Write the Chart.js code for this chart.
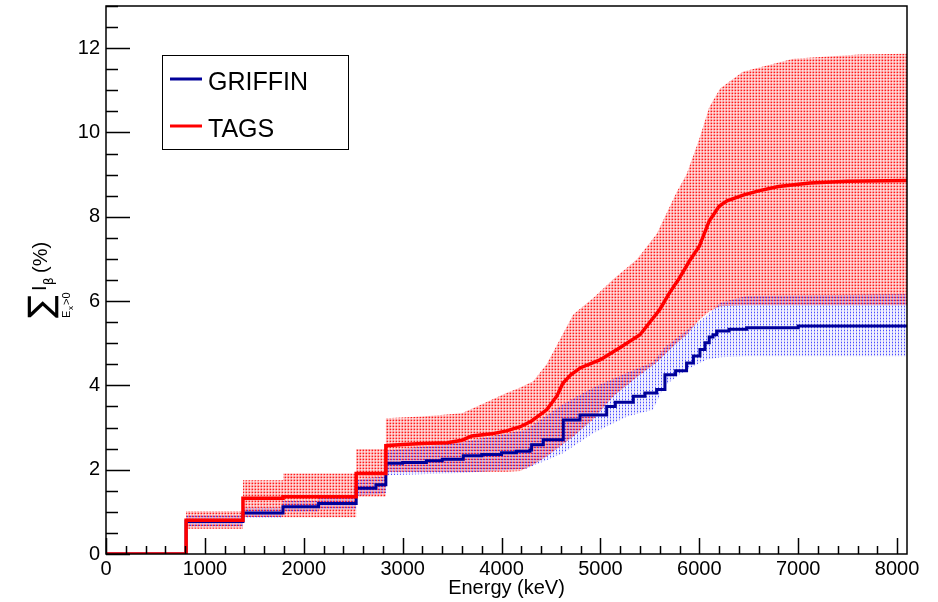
<!DOCTYPE html>
<html>
<head>
<meta charset="utf-8">
<script src="https://cdn.jsdelivr.net/npm/chart.js@4.4.1/dist/chart.umd.min.js"></script>
<style>
  html, body { margin: 0; padding: 0; background: #fff; }
</style>
</head>
<body>
<canvas id="c" width="938" height="602"></canvas>
<script>
const xTicks = [0, 1000, 2000, 3000, 4000, 5000, 6000, 7000, 8000];
const yTicks = [0, 2, 4, 6, 8, 10, 12];

// GRIFFIN cumulative feeding (step function, value holds from E onward)
const griffinE = [0, 810, 1385, 1790, 2150, 2530, 2730, 2830, 3000, 3240, 3400, 3613, 3800, 4000, 4150, 4287, 4304, 4422,
  4624, 4793, 5063, 5150, 5332, 5450, 5568, 5652, 5760, 5871, 5940, 6006, 6057, 6100, 6138, 6175, 6300, 6478, 7000, 8100];
const griffinI = [0, 0.77, 0.97, 1.12, 1.20, 1.56, 1.64, 2.15, 2.17, 2.21, 2.25, 2.33, 2.36, 2.40, 2.44, 2.47, 2.59, 2.71,
  3.18, 3.30, 3.50, 3.60, 3.74, 3.82, 3.90, 4.25, 4.35, 4.53, 4.70, 4.85, 5.01, 5.15, 5.20, 5.29, 5.33, 5.37, 5.41, 5.43];

// TAGS cumulative feeding
const tagsE = [0, 810, 810, 1385, 1385, 1790, 1790, 2530, 2530, 2830, 2830, 3000, 3200, 3450, 3600, 3700, 3900, 4050, 4190,
  4300, 4456, 4560, 4620, 4700, 4800, 5000, 5200, 5400, 5600, 5700, 5800, 5900, 6000, 6100, 6200, 6280, 6450, 6610, 6800,
  7120, 7500, 8100];
const tagsI = [0, 0, 0.80, 0.80, 1.32, 1.32, 1.36, 1.36, 1.91, 1.91, 2.57, 2.60, 2.62, 2.64, 2.70, 2.80, 2.85, 2.92, 3.02,
  3.15, 3.42, 3.75, 4.05, 4.25, 4.42, 4.61, 4.90, 5.20, 5.80, 6.20, 6.55, 6.95, 7.30, 7.90, 8.25, 8.38, 8.52, 8.62, 8.72,
  8.80, 8.84, 8.86];

// uncertainty bands
const tagsBandE = [810, 1385, 1385, 1790, 1790, 2530, 2530, 2830, 2830, 3200, 3600, 3800, 4050, 4190, 4320, 4456, 4590,
  4725, 4930, 5130, 5370, 5570, 5770, 5870, 6000, 6100, 6210, 6440, 6950, 7620, 8100];
const tagsLow = [0.60, 0.60, 0.88, 0.88, 0.87, 0.87, 1.36, 1.36, 1.95, 1.95, 1.95, 1.95, 1.95, 1.97, 2.12, 2.31, 2.55,
  2.79, 3.20, 3.74, 4.20, 4.55, 5.00, 5.20, 5.55, 5.75, 5.88, 5.90, 5.90, 5.90, 5.90];
const tagsHigh = [1.02, 1.02, 1.75, 1.75, 1.91, 1.91, 2.49, 2.49, 3.22, 3.26, 3.34, 3.55, 3.82, 3.95, 4.10, 4.50, 5.09,
  5.68, 6.08, 6.52, 6.99, 7.60, 8.58, 9.00, 9.85, 10.60, 11.04, 11.44, 11.75, 11.85, 11.87];

const griffinBandE = [810, 1385, 1385, 1790, 1790, 2150, 2150, 2530, 2530, 2730, 2830, 2830, 3600, 4250, 4620, 4930, 5270,
  5530, 5650, 5870, 6070, 6210, 6480, 8100];
const griffinLow = [0.66, 0.66, 0.86, 0.86, 1.00, 1.00, 1.06, 1.06, 1.38, 1.42, 1.45, 1.87, 1.92, 2.02, 2.39, 2.87, 3.26,
  3.42, 4.00, 4.37, 4.61, 4.67, 4.69, 4.69];
const griffinHigh = [0.92, 0.92, 1.10, 1.10, 1.26, 1.26, 1.34, 1.34, 1.76, 1.82, 1.84, 2.45, 2.65, 2.95, 3.55, 3.95, 4.30,
  4.55, 4.90, 5.30, 5.64, 5.96, 6.12, 6.16];

const pts = (xs, ys) => xs.map((x, i) => ({ x: x, y: ys[i] }));

const canvas = document.getElementById("c");
const ctx2d = canvas.getContext("2d");

// ROOT-like dotted fill, alpha map for a 3x3 tile
function dots(rgb, alphas) {
  const t = document.createElement("canvas");
  t.width = 3;
  t.height = 3;
  const g = t.getContext("2d");
  alphas.forEach((row, y) => row.forEach((a, x) => {
    g.fillStyle = `rgba(${rgb},${a})`;
    g.fillRect(x, y, 1, 1);
  }));
  return ctx2d.createPattern(t, "repeat");
}
const redDots = dots("255,0,0", [[0.9, 0.3, 0.5], [0.3, 0.1, 0.25], [0.45, 0.2, 0.3]]);
const blueDots = dots("0,0,255", [[0.05, 0.7, 0.05], [0.05, 0.25, 0.05], [0.05, 0.25, 0.05]]);

const font = "'Liberation Sans', Arial, Helvetica, sans-serif";

const decor = {
  id: "decor",
  afterDatasetsDraw(chart) {
    const { ctx, chartArea: a, scales: { x, y } } = chart;
    ctx.save();
    ctx.strokeStyle = "#000";
    ctx.lineWidth = 1.5;
    ctx.strokeRect(a.left, a.top, a.right - a.left, a.bottom - a.top);

    // ticks inside the frame
    ctx.beginPath();
    for (let v = 0; v <= x.max; v += 200) {
      const px = Math.round(x.getPixelForValue(v)) + 0.5;
      const len = v % 1000 === 0 ? 16 : 8;
      ctx.moveTo(px, a.bottom);
      ctx.lineTo(px, a.bottom - len);
    }
    for (let v = 0; v <= y.max; v += 0.5) {
      const py = Math.round(y.getPixelForValue(v)) + 0.5;
      const len = v % 2 === 0 ? 24 : 12;
      ctx.moveTo(a.left, py);
      ctx.lineTo(a.left + len, py);
    }
    ctx.stroke();

    // legend
    ctx.fillStyle = "#fff";
    ctx.fillRect(163, 56, 185, 93);
    ctx.lineWidth = 1;
    ctx.strokeRect(162.5, 55.5, 186, 94);
    ctx.lineWidth = 3;
    ctx.strokeStyle = "#000099";
    ctx.beginPath(); ctx.moveTo(170, 79); ctx.lineTo(202, 79); ctx.stroke();
    ctx.strokeStyle = "#ff0000";
    ctx.beginPath(); ctx.moveTo(170, 126); ctx.lineTo(202, 126); ctx.stroke();
    ctx.fillStyle = "#000";
    ctx.font = `25px ${font}`;
    ctx.textBaseline = "alphabetic";
    ctx.fillText("GRIFFIN", 208, 90);
    ctx.fillText("TAGS", 208, 137);

    // y title: sum_{E_x>0} I_beta (%)
    ctx.save();
    ctx.rotate(-Math.PI / 2);
    ctx.font = "34px 'DejaVu Sans'";
    ctx.textBaseline = "middle";
    ctx.fillText("\u2211", -318, 43);
    ctx.textBaseline = "alphabetic";
    ctx.font = `11px ${font}`;
    ctx.fillText("E", -318, 70);
    ctx.font = `8px ${font}`;
    ctx.fillText("x", -310, 73);
    ctx.font = `11px ${font}`;
    ctx.fillText(">0", -305, 70);
    ctx.font = `20px ${font}`;
    ctx.fillText("I", -291, 46);
    ctx.font = `12px 'DejaVu Sans'`;
    ctx.fillText("\u03b2", -285, 53);
    ctx.font = `20px ${font}`;
    ctx.fillText("(%)", -273, 47);
    ctx.restore();

    ctx.restore();
  },
};

new Chart(canvas, {
  type: "line",
  data: {
    datasets: [
      { data: pts(tagsE, tagsI), borderColor: "#ff0000", borderWidth: 3.5, order: 0, fill: false },
      { data: pts(griffinE, griffinI), borderColor: "#000099", borderWidth: 3, stepped: "before", order: 1, fill: false },
      { data: pts(griffinBandE, griffinLow), borderWidth: 0, borderColor: "rgba(0,0,0,0)", order: 2, fill: false },
      { data: pts(griffinBandE, griffinHigh), borderWidth: 0, borderColor: "rgba(0,0,0,0)", backgroundColor: blueDots, order: 2, fill: "-1" },
      { data: pts(tagsBandE, tagsLow), borderWidth: 0, borderColor: "rgba(0,0,0,0)", order: 3, fill: false },
      { data: pts(tagsBandE, tagsHigh), borderWidth: 0, borderColor: "rgba(0,0,0,0)", backgroundColor: redDots, order: 3, fill: "-1" },
    ],
  },
  options: {
    responsive: false,
    animation: false,
    parsing: false,
    elements: { point: { radius: 0 }, line: { tension: 0 } },
    layout: { autoPadding: false, padding: { top: 6, right: 31, left: 0, bottom: 0 } },
    plugins: { legend: { display: false }, tooltip: { enabled: false } },
    scales: {
      x: {
        type: "linear",
        min: 0,
        max: 8100,
        afterBuildTicks: (s) => { s.ticks = xTicks.map((v) => ({ value: v })); },
        afterFit: (s) => { s.height = 48; s.paddingLeft = 0; s.paddingRight = 0; },
        grid: { display: false, drawTicks: false },
        border: { display: false },
        ticks: { color: "#000", font: { family: font, size: 20 }, padding: 3, maxRotation: 0, autoSkip: false, callback: (v) => String(v) },
        title: { display: true, text: "Energy (keV)", color: "#000", font: { family: font, size: 20 }, padding: { top: 0, bottom: 2 } },
      },
      y: {
        min: 0,
        max: 13,
        afterBuildTicks: (s) => { s.ticks = yTicks.map((v) => ({ value: v })); },
        afterFit: (s) => { s.width = 106; s.paddingTop = 0; s.paddingBottom = 0; },
        grid: { display: false, drawTicks: false },
        border: { display: false },
        ticks: { color: "#000", font: { family: font, size: 20 }, padding: 6, autoSkip: false, callback: (v) => String(v) },
      },
    },
  },
  plugins: [decor],
});
</script>
</body>
</html>
